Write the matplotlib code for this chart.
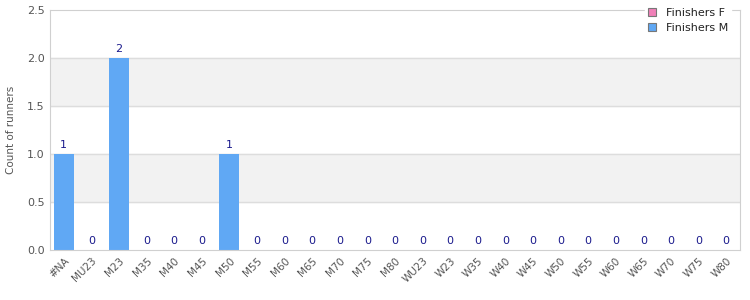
import matplotlib.pyplot as plt
import numpy as np

categories = ['#NA', 'MU23', 'M23', 'M35', 'M40', 'M45', 'M50', 'M55', 'M60', 'M65',
              'M70', 'M75', 'M80', 'WU23', 'W23', 'W35', 'W40', 'W45', 'W50', 'W55',
              'W60', 'W65', 'W70', 'W75', 'W80']
finishers_f = [0] * 25
finishers_m = [1, 0, 2, 0, 0, 0, 1, 0, 0, 0, 0, 0, 0, 0, 0, 0, 0, 0, 0, 0, 0, 0, 0, 0, 0]

pink = '#f080b8'
blue = '#60a8f4'
grey_txt = '#555555'

fig = plt.figure(figsize=(7.5, 3), dpi=100)
ax = fig.add_axes([50/750, 50/300, 690/750, 240/300])

x = np.arange(len(categories))
ax.set_xlim(-0.5, len(categories) - 0.5)
ax.set_ylim(0, 2.5)

# alternating bands
for lo in (0.5, 1.5):
    ax.axhspan(lo, lo + 0.5, color='#f2f2f2', zorder=0)
for yv in np.arange(0.5, 2.5, 0.5):
    ax.axhline(yv, color='#dddddd', lw=1, zorder=1)

ax.bar(x, finishers_f, width=0.72, color=pink, label='Finishers F', zorder=2)
ax.bar(x, finishers_m, width=0.72, color=blue, label='Finishers M', zorder=2)

for xi, v in zip(x, finishers_m):
    ax.text(xi, v + 0.04, str(v), ha='center', va='bottom', fontsize=8, color='#1a1a8c')

ax.set_xticks(x)
ax.set_xticklabels(categories, rotation=45, ha='right', rotation_mode='anchor',
                   fontsize=7.5, color=grey_txt)
ax.set_yticks(np.arange(0, 2.51, 0.5))
ax.set_yticklabels(['%.1f' % v for v in np.arange(0, 2.51, 0.5)], fontsize=8, color=grey_txt)
ax.tick_params(length=0, pad=4)
ax.set_ylabel('Count of runners', fontsize=7.5, color=grey_txt, labelpad=8)

for s in ax.spines.values():
    s.set_color('#d0d0d0')

leg = ax.legend(loc='upper right', bbox_to_anchor=(0.995, 1.045), fontsize=8,
                frameon=True, framealpha=1, edgecolor='white', fancybox=False,
                handlelength=0.7, handleheight=0.7, borderpad=0.25, labelspacing=0.45,
                handletextpad=0.9)
for h in leg.legend_handles:
    h.set_edgecolor('#777777')
    h.set_linewidth(0.8)
for t in leg.get_texts():
    t.set_color('#222222')

fig.savefig('out.png', dpi=100)
